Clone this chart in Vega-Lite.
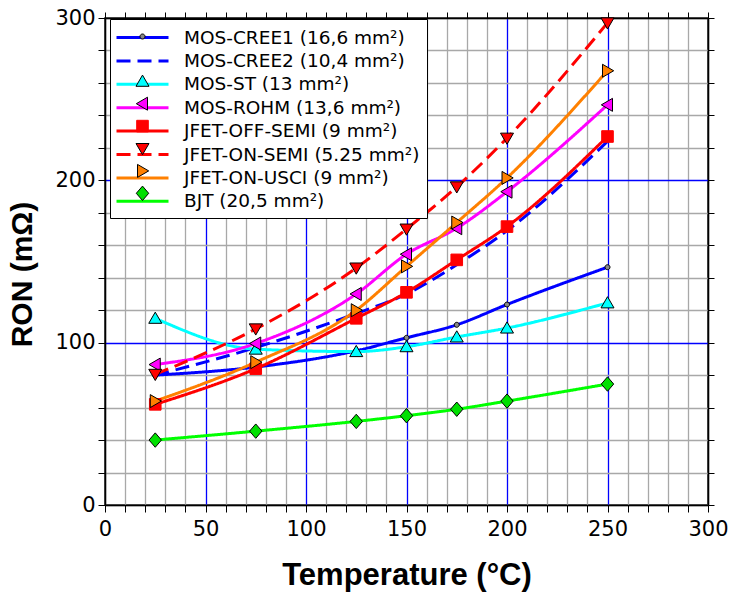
{
  "$schema": "https://vega.github.io/schema/vega-lite/v6.json",
  "width": 603,
  "height": 487,
  "autosize": {"type": "none"},
  "padding": {"left": 105, "top": 18, "right": 22, "bottom": 87},
  "background": "white",
  "config": {
    "view": {"stroke": "black", "strokeWidth": 1.5},
    "axis": {"domainColor": "black", "domainWidth": 1.5, "tickColor": "black", "tickWidth": 1, "labelColor": "black", "titleColor": "black"}
  },
  "data": {
    "values": [
      {"device": "MOS-CREE1 (16,6 mm²)", "t": 25, "r": 80},
      {"device": "MOS-CREE1 (16,6 mm²)", "t": 75, "r": 85},
      {"device": "MOS-CREE1 (16,6 mm²)", "t": 125, "r": 95},
      {"device": "MOS-CREE1 (16,6 mm²)", "t": 150, "r": 103},
      {"device": "MOS-CREE1 (16,6 mm²)", "t": 175, "r": 111},
      {"device": "MOS-CREE1 (16,6 mm²)", "t": 200, "r": 123.5},
      {"device": "MOS-CREE1 (16,6 mm²)", "t": 250, "r": 146.5},
      {"device": "MOS-CREE2 (10,4 mm²)", "t": 25, "r": 80},
      {"device": "MOS-CREE2 (10,4 mm²)", "t": 75, "r": 97},
      {"device": "MOS-CREE2 (10,4 mm²)", "t": 125, "r": 118},
      {"device": "MOS-CREE2 (10,4 mm²)", "t": 150, "r": 130},
      {"device": "MOS-CREE2 (10,4 mm²)", "t": 175, "r": 148},
      {"device": "MOS-CREE2 (10,4 mm²)", "t": 200, "r": 169},
      {"device": "MOS-CREE2 (10,4 mm²)", "t": 250, "r": 224},
      {"device": "MOS-ST (13 mm²)", "t": 25, "r": 115},
      {"device": "MOS-ST (13 mm²)", "t": 75, "r": 96},
      {"device": "MOS-ST (13 mm²)", "t": 125, "r": 94.5},
      {"device": "MOS-ST (13 mm²)", "t": 150, "r": 97.5},
      {"device": "MOS-ST (13 mm²)", "t": 175, "r": 103.5},
      {"device": "MOS-ST (13 mm²)", "t": 200, "r": 109},
      {"device": "MOS-ST (13 mm²)", "t": 250, "r": 124.5},
      {"device": "MOS-ROHM (13,6 mm²)", "t": 25, "r": 86.5},
      {"device": "MOS-ROHM (13,6 mm²)", "t": 75, "r": 99.5},
      {"device": "MOS-ROHM (13,6 mm²)", "t": 125, "r": 130},
      {"device": "MOS-ROHM (13,6 mm²)", "t": 150, "r": 154.5},
      {"device": "MOS-ROHM (13,6 mm²)", "t": 175, "r": 170.5},
      {"device": "MOS-ROHM (13,6 mm²)", "t": 200, "r": 193},
      {"device": "MOS-ROHM (13,6 mm²)", "t": 250, "r": 246.5},
      {"device": "JFET-OFF-SEMI (9 mm²)", "t": 25, "r": 62},
      {"device": "JFET-OFF-SEMI (9 mm²)", "t": 75, "r": 84},
      {"device": "JFET-OFF-SEMI (9 mm²)", "t": 125, "r": 115},
      {"device": "JFET-OFF-SEMI (9 mm²)", "t": 150, "r": 131},
      {"device": "JFET-OFF-SEMI (9 mm²)", "t": 175, "r": 151},
      {"device": "JFET-OFF-SEMI (9 mm²)", "t": 200, "r": 171.5},
      {"device": "JFET-OFF-SEMI (9 mm²)", "t": 250, "r": 227},
      {"device": "JFET-ON-SEMI (5.25 mm²)", "t": 25, "r": 80.5},
      {"device": "JFET-ON-SEMI (5.25 mm²)", "t": 75, "r": 108.5},
      {"device": "JFET-ON-SEMI (5.25 mm²)", "t": 125, "r": 146},
      {"device": "JFET-ON-SEMI (5.25 mm²)", "t": 150, "r": 170},
      {"device": "JFET-ON-SEMI (5.25 mm²)", "t": 175, "r": 196},
      {"device": "JFET-ON-SEMI (5.25 mm²)", "t": 200, "r": 226},
      {"device": "JFET-ON-SEMI (5.25 mm²)", "t": 250, "r": 297},
      {"device": "JFET-ON-USCI (9 mm²)", "t": 25, "r": 64},
      {"device": "JFET-ON-USCI (9 mm²)", "t": 75, "r": 88},
      {"device": "JFET-ON-USCI (9 mm²)", "t": 125, "r": 120},
      {"device": "JFET-ON-USCI (9 mm²)", "t": 150, "r": 147},
      {"device": "JFET-ON-USCI (9 mm²)", "t": 175, "r": 174},
      {"device": "JFET-ON-USCI (9 mm²)", "t": 200, "r": 201.5},
      {"device": "JFET-ON-USCI (9 mm²)", "t": 250, "r": 267.5},
      {"device": "BJT (20,5 mm²)", "t": 25, "r": 40},
      {"device": "BJT (20,5 mm²)", "t": 75, "r": 45.5},
      {"device": "BJT (20,5 mm²)", "t": 125, "r": 51.5},
      {"device": "BJT (20,5 mm²)", "t": 150, "r": 55},
      {"device": "BJT (20,5 mm²)", "t": 175, "r": 59},
      {"device": "BJT (20,5 mm²)", "t": 200, "r": 64},
      {"device": "BJT (20,5 mm²)", "t": 250, "r": 74.5}
    ]
  },
  "layer": [
    {
      "mark": {"type": "line", "interpolate": "monotone", "strokeWidth": 3},
      "encoding": {
        "x": {
          "field": "t", "type": "quantitative",
          "scale": {"domain": [0, 300], "nice": false},
          "axis": {
            "orient": "bottom",
            "values": [0,10,20,30,40,50,60,70,80,90,100,110,120,130,140,150,160,170,180,190,200,210,220,230,240,250,260,270,280,290,300],
            "labelExpr": "datum.value % 50 === 0 ? datum.label : ''",
            "labelOverlap": false, "labelFlush": false,
            "grid": true,
            "gridColor": {"condition": {"test": "datum.value % 50 === 0 && datum.value > 0 && datum.value < 300", "value": "#0000ff"}, "value": "#a8a8a8"},
            "gridWidth": 1.3,
            "tickSize": 7,
            "labelFont": "DejaVu Sans", "labelFontSize": 21, "labelPadding": 6,
            "title": "Temperature (°C)",
            "titleFont": "Liberation Sans", "titleFontSize": 31, "titleFontWeight": "bold", "titlePadding": 21
          }
        },
        "y": {
          "field": "r", "type": "quantitative",
          "scale": {"domain": [0, 300], "nice": false},
          "axis": {
            "orient": "left",
            "values": [0,20,40,60,80,100,120,140,160,180,200,220,240,260,280,300],
            "labelExpr": "datum.value % 100 === 0 ? datum.label : ''",
            "labelOverlap": false, "labelFlush": false,
            "grid": true,
            "gridColor": {"condition": {"test": "datum.value % 100 === 0 && datum.value > 0 && datum.value < 300", "value": "#0000ff"}, "value": "#a8a8a8"},
            "gridWidth": 1.3,
            "tickSize": 7,
            "labelFont": "DejaVu Sans", "labelFontSize": 21, "labelPadding": 3,
            "title": "RON (mΩ)",
            "titleFont": "Liberation Sans", "titleFontSize": 30, "titleFontWeight": "bold", "titlePadding": 17,
            "titleY": 256
          }
        },
        "color": {
          "field": "device", "type": "nominal",
          "scale": {
            "domain": ["MOS-CREE1 (16,6 mm²)", "MOS-CREE2 (10,4 mm²)", "MOS-ST (13 mm²)", "MOS-ROHM (13,6 mm²)", "JFET-OFF-SEMI (9 mm²)", "JFET-ON-SEMI (5.25 mm²)", "JFET-ON-USCI (9 mm²)", "BJT (20,5 mm²)"],
            "range": ["#0000ff", "#0000ff", "#00ffff", "#ff00ff", "#ff0000", "#ff0000", "#ff8000", "#00ff00"]
          },
          "legend": {
            "orient": "none", "legendX": 5, "legendY": 1,
            "title": null,
            "fillColor": "white", "strokeColor": "black",
            "padding": 7,
            "labelFont": "DejaVu Sans", "labelFontSize": 18.5, "labelColor": "black", "labelLimit": 0,
            "symbolType": "M-2.6,0H2.6", "symbolSize": 400, "symbolStrokeWidth": 3,
            "symbolOffset": 14, "labelOffset": 30, "rowPadding": 2.4
          }
        },
        "strokeDash": {
          "field": "device", "type": "nominal",
          "scale": {
            "domain": ["MOS-CREE1 (16,6 mm²)", "MOS-CREE2 (10,4 mm²)", "MOS-ST (13 mm²)", "MOS-ROHM (13,6 mm²)", "JFET-OFF-SEMI (9 mm²)", "JFET-ON-SEMI (5.25 mm²)", "JFET-ON-USCI (9 mm²)", "BJT (20,5 mm²)"],
            "range": [[1, 0], [14, 7], [1, 0], [1, 0], [1, 0], [14, 7], [1, 0], [1, 0]]
          }
        }
      }
    },
    {
      "mark": {"type": "point", "filled": true, "size": 400, "strokeWidth": 1, "opacity": 1},
      "encoding": {
        "x": {
          "field": "t", "type": "quantitative",
          "axis": {
            "orient": "top",
            "values": [0,10,20,30,40,50,60,70,80,90,100,110,120,130,140,150,160,170,180,190,200,210,220,230,240,250,260,270,280,290,300],
            "labels": false, "grid": false, "tickSize": 6, "title": null
          }
        },
        "y": {
          "field": "r", "type": "quantitative",
          "axis": {
            "orient": "right",
            "values": [0,20,40,60,80,100,120,140,160,180,200,220,240,260,280,300],
            "labels": false, "grid": false, "tickSize": 6, "title": null
          }
        },
        "fill": {
          "field": "device", "type": "nominal", "sort": null,
          "scale": {"range": ["#888888", "transparent", "#00ffff", "#ff00ff", "#ff0000", "#ff0000", "#ff8000", "#00e000"]},
          "legend": {
            "orient": "none", "legendX": 5, "legendY": 1,
            "title": null,
            "padding": 7,
            "labelFont": "DejaVu Sans", "labelFontSize": 18.5, "labelOpacity": 0, "labelLimit": 0,
            "labelExpr": "' '",
            "symbolSize": 400, "symbolStrokeWidth": 1, "symbolStrokeColor": "black",
            "symbolOffset": 15, "labelOffset": 30, "rowPadding": 2.4
          }
        },
        "shape": {
          "field": "device", "type": "nominal", "sort": null,
          "scale": {"range": [
            "M0.25,0A0.25,0.25,0,1,1,-0.25,0A0.25,0.25,0,1,1,0.25,0Z",
            "M0,0",
            "M0,-0.62L0.65,0.5L-0.65,0.5Z",
            "M-0.62,0L0.5,-0.65L0.5,0.65Z",
            "M-0.58,-0.58H0.58V0.58H-0.58Z",
            "M0,0.62L0.65,-0.5L-0.65,-0.5Z",
            "M0.62,0L-0.5,-0.65L-0.5,0.65Z",
            "M0,-0.72L0.62,0L0,0.72L-0.62,0Z"
          ]}
        },
        "stroke": {
          "field": "device", "type": "nominal", "sort": null,
          "scale": {"range": ["black", "transparent", "black", "black", "#ff0000", "black", "black", "black"]},
          "legend": null
        }
      }
    }
  ],
  "resolve": {"axis": {"x": "independent", "y": "independent"}}
}
